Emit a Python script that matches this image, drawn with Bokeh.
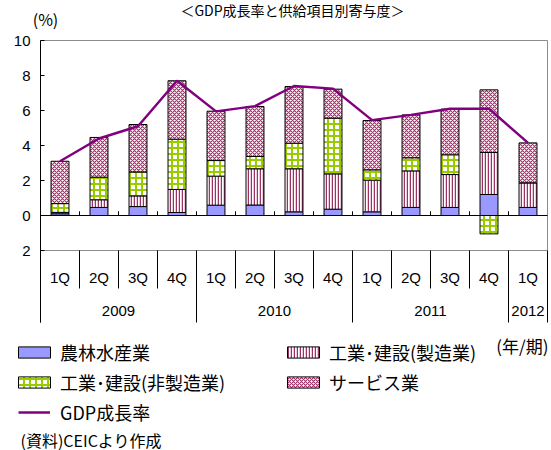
from bokeh.plotting import figure
from bokeh.models import Range1d, FixedTicker, Legend, LegendItem, Label, ColumnDataSource
from bokeh.core.properties import value
from bokeh.embed import file_html
from bokeh.resources import INLINE

# ---- data ----
quarters = ["1Q", "2Q", "3Q", "4Q", "1Q", "2Q", "3Q", "4Q", "1Q", "2Q", "3Q", "4Q", "1Q"]
years = ["2009", "2010", "2011", "2012"]
year_counts = [4, 4, 4, 1]
agri = [0.10, 0.46, 0.51, 0.17, 0.59, 0.60, 0.21, 0.36, 0.21, 0.46, 0.46, 1.20, 0.46]
manuf = [0.08, 0.44, 0.61, 1.32, 1.66, 2.07, 2.46, 2.02, 1.81, 2.09, 1.88, 2.40, 1.41]
nonmanuf = [0.50, 1.29, 1.37, 2.87, 0.89, 0.70, 1.46, 3.18, 0.59, 0.75, 1.13, -1.05, 0.0]
services = [2.42, 2.27, 2.71, 3.34, 2.82, 2.86, 3.24, 1.66, 2.82, 2.45, 2.61, 3.58, 2.28]
gdp = [3.1, 4.4, 5.1, 7.7, 5.95, 6.25, 7.4, 7.25, 5.45, 5.75, 6.1, 6.1, 4.15]
series_names = ["農林水産業", "工業･建設(製造業)", "工業･建設(非製造業)", "サービス業"]
line_name = "GDP成長率"
y_ticks = [-2, 0, 2, 4, 6, 8, 10]

n = len(quarters)
xs = [i + 0.5 for i in range(n)]

# stacked bottoms/tops (positives up, negatives down)
pos = [0.0] * n
neg = [0.0] * n
stacks = []
for vals in [agri, manuf, nonmanuf, services]:
    b, t = [], []
    for i, v in enumerate(vals):
        if v >= 0:
            b.append(pos[i]); pos[i] += v; t.append(pos[i])
        else:
            b.append(neg[i]); neg[i] += v; t.append(neg[i])
    stacks.append((b, t))

# layout: the frame covers the whole canvas; pixel helpers
W, H = 551, 450
PX0, PX1 = 40, 547          # pixel x of category 0 and n
PY0, SY = 215, 17.5         # pixel y of value 0, pixels per unit
SX = (PX1 - PX0) / n
def dx(px):
    return (px - PX0) / SX
def dy(py):
    return (PY0 - py) / SY

p = figure(width=W, height=H, x_range=Range1d(dx(0), dx(W)), y_range=Range1d(dy(H), dy(0)),
           output_backend="svg", toolbar_location=None, x_axis_location=None,
           min_border_left=0, min_border_right=0, min_border_top=0, min_border_bottom=0)
p.outline_line_color = None
p.xgrid.visible = False
p.ygrid.visible = False

Y_BOTTOM_SEP = dy(322)
ax = p.yaxis[0]
ax.fixed_location = 0
ax.bounds = (Y_BOTTOM_SEP, 10)
ax.ticker = FixedTicker(ticks=y_ticks)
ax.major_label_overrides = {t: str(abs(t)) for t in y_ticks}
ax.minor_tick_line_color = None
ax.major_tick_in = 4
ax.major_tick_out = 0
ax.major_tick_line_color = "black"
ax.axis_line_color = "black"
ax.major_label_standoff = 10
ax.major_label_text_font = "Liberation Sans"
ax.major_label_text_font_size = "15px"
ax.major_label_text_color = "black"

# plot frame (gray) and zero line
p.segment(x0=[0, n, 0], y0=[10, -2, -2], x1=[n, n, n], y1=[10, 10, -2], line_color="#8c8c8c", line_width=1)
p.segment(x0=[0], y0=[0], x1=[n], y1=[0], line_color="black", line_width=1)
p.segment(x0=list(range(1, n)), y0=[0] * (n - 1), x1=list(range(1, n)), y1=[0.24] * (n - 1),
          line_color="black", line_width=1)

styles = [
    dict(fill_color="#9999FF"),
    dict(fill_color="white", hatch_pattern="vertical_line", hatch_color="#993366", hatch_scale=3, hatch_weight=1.5),
    dict(fill_color="white", hatch_pattern="cross", hatch_color="#99CC00", hatch_scale=6, hatch_weight=2),
    dict(fill_color="white", hatch_pattern="diagonal_cross", hatch_color="#993366", hatch_scale=4, hatch_weight=1.1),
]
rends = []
for (b, t), st in zip(stacks, styles):
    src = ColumnDataSource(dict(x=xs, bottom=b, top=t))
    r = p.vbar(x="x", bottom="bottom", top="top", width=0.46, source=src,
               line_color="black", line_width=1, **st)
    rends.append(r)

r_line = p.line(xs, gdp, line_color="#800080", line_width=2.5)

# category axis (two levels) drawn below the plot area
bounds = [0]
for c in year_counts:
    bounds.append(bounds[-1] + c)
year_bounds = set(bounds)
qx = [i for i in range(1, n) if i not in year_bounds]
p.segment(x0=qx, y0=[-2] * len(qx), x1=qx, y1=[dy(288)] * len(qx), line_color="black", line_width=1)
yb = sorted(year_bounds)
p.segment(x0=yb, y0=[-2] * len(yb), x1=yb, y1=[Y_BOTTOM_SEP] * len(yb), line_color="black", line_width=1)
p.text(x=xs, y=[dy(277)] * n, text=quarters, text_align="center", text_baseline="middle",
       text_font=value("Liberation Sans"), text_font_size="15px", text_color="black")
ycent = [(bounds[i] + bounds[i + 1]) / 2 for i in range(len(years))]
p.text(x=ycent, y=[dy(310)] * len(years), text=years, text_align="center", text_baseline="middle",
       text_font=value("Liberation Sans"), text_font_size="15px", text_color="black")

# legends (location = bottom-left corner, pixels from the frame's bottom-left)
common = dict(label_height=30, spacing=0, padding=0, margin=0, border_line_color=None,
              background_fill_alpha=0, label_text_font="Noto Sans CJK JP",
              label_text_font_size="18px", label_text_color="black")
area = dict(glyph_width=40, glyph_height=14, label_standoff=6)
leg1 = Legend(items=[LegendItem(label=series_names[0], renderers=[rends[0]]),
                     LegendItem(label=series_names[2], renderers=[rends[2]])],
              location=(14, H - 397), **area, **common)
leg2 = Legend(items=[LegendItem(label=series_names[1], renderers=[rends[1]]),
                     LegendItem(label=series_names[3], renderers=[rends[3]])],
              location=(283, H - 397), **area, **common)
leg3 = Legend(items=[LegendItem(label=line_name, renderers=[r_line])],
              location=(18, H - 427), glyph_width=32, glyph_height=14, label_standoff=10, **common)
for lg in (leg1, leg2, leg3):
    p.add_layout(lg)

lab_font = dict(text_font="Noto Sans CJK JP", text_color="black", text_baseline="middle")
p.add_layout(Label(x=dx(45), y=dy(18), text="(%)", text_align="center", text_font_size="16px", **lab_font))
p.add_layout(Label(x=dx(292), y=dy(9), text="＜GDP成長率と供給項目別寄与度＞", text_align="center",
                   text_font_size="14px", **lab_font))
p.add_layout(Label(x=dx(548), y=dy(345), text="(年/期)", text_align="right", text_font_size="17px", **lab_font))
p.add_layout(Label(x=dx(20), y=dy(439), text="(資料)CEICより作成", text_align="left", text_font_size="16px", **lab_font))

open("out.html", "w").write(file_html(p, INLINE))
